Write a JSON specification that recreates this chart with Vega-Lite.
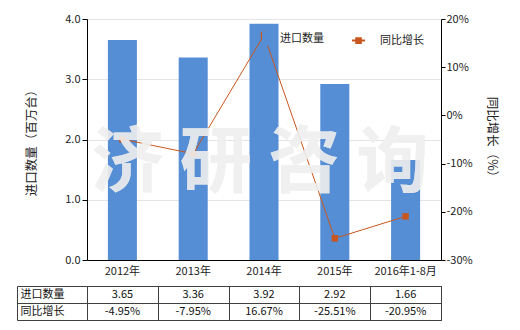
{
  "$schema": "https://vega.github.io/schema/vega-lite/v6.json",
  "padding": {"left": 16, "top": 13, "right": 5, "bottom": 5},
  "background": "white",
  "bounds": "flush",
  "spacing": 26,
  "config": {
    "font": "Noto Sans CJK SC",
    "view": {"stroke": null},
    "axis": {"labelColor": "#222222", "titleColor": "#222222", "titleFontWeight": "normal", "labelFont": "Noto Sans CJK SC", "titleFont": "Noto Sans CJK SC"},
    "legend": {"labelFont": "Noto Sans CJK SC"}
  },
  "resolve": {"scale": {"x": "independent", "y": "independent"}},
  "vconcat": [
    {
      "width": 354,
      "height": 241,
      "data": {"values": [
        {"year": "2012年", "qty": 3.65, "yoy": -4.95},
        {"year": "2013年", "qty": 3.36, "yoy": -7.95},
        {"year": "2014年", "qty": 3.92, "yoy": 16.67},
        {"year": "2015年", "qty": 2.92, "yoy": -25.51},
        {"year": "2016年1-8月", "qty": 1.66, "yoy": -20.95}
      ]},
      "encoding": {
        "x": {"field": "year", "type": "nominal", "sort": null,
          "scale": {"paddingInner": 0.59, "paddingOuter": 0.295},
          "axis": {"title": null, "ticks": false, "labelAngle": 0, "domainColor": "#000000", "labelFontSize": 11, "labelPadding": 5}}
      },
      "layer": [
        {
          "mark": {"type": "bar", "color": "#558ed5"},
          "encoding": {
            "y": {"field": "qty", "type": "quantitative", "scale": {"domain": [0, 4]},
              "axis": {"values": [0, 1, 2, 3, 4], "format": ".1f", "grid": true, "gridColor": "#e4e4e4", "domainColor": "#000000", "tickColor": "#000000", "tickSize": 5, "labelFontSize": 11, "labelPadding": 2, "title": "进口数量（百万台）", "titleFontSize": 12.5, "titlePadding": 26}},
            "color": {"datum": "进口数量", "type": "nominal",
              "scale": {"domain": ["进口数量", "同比增长"], "range": ["#558ed5", "#c9561e"]},
              "legend": {"orient": "none", "legendX": 164, "legendY": 7, "direction": "horizontal", "title": null, "symbolSize": 529, "labelFontSize": 11, "labelOffset": 4, "columnPadding": 24, "padding": 0, "labelColor": "#222222",
                "encode": {"symbols": {"update": {
                  "shape": {"signal": "datum.value === '进口数量' ? 'M-0.04,-0.52H1V0.52H-0.04Z' : 'M-1,0H0.13M-0.63,-0.2H-0.23V0.2H-0.63Z'"},
                  "fill": {"scale": "color", "field": "value"},
                  "stroke": {"scale": "color", "field": "value"},
                  "strokeWidth": {"value": 2},
                  "opacity": {"value": 1}
                }}}}
            }
          }
        },
        {
          "layer": [
            {
              "mark": {"type": "line", "strokeWidth": 1},
              "encoding": {
                "y": {"field": "yoy", "type": "quantitative", "scale": {"domain": [-30, 20]},
                  "axis": {"orient": "right", "values": [-30, -20, -10, 0, 10, 20], "labelExpr": "datum.value + '%'", "grid": false, "domainColor": "#000000", "tickColor": "#000000", "tickSize": 4, "labelFontSize": 11, "labelPadding": 1, "title": "同比增长（%）", "titleFontSize": 12.5, "titleAngle": 90, "titlePadding": 12}},
                "color": {"datum": "同比增长", "type": "nominal"}
              }
            },
            {
              "mark": {"type": "point", "shape": "square", "filled": true, "size": 42, "opacity": 1},
              "encoding": {
                "y": {"field": "yoy", "type": "quantitative"},
                "color": {"datum": "同比增长", "type": "nominal"}
              }
            },
            {
              "mark": {"type": "text", "text": "济 研 咨 询", "fontSize": 72, "fontWeight": "bold", "color": "#f0f0f0", "opacity": 0.37, "dx": -4},
              "encoding": {"x": {"datum": "2014年"}, "y": {"datum": -10.1}}
            }
          ]
        }
      ],
      "resolve": {"scale": {"y": "independent"}}
    },
    {
      "width": 354,
      "height": 34,
      "view": {"stroke": "#404040", "strokeWidth": 1},
      "data": {"values": [
        {"year": "2012年", "row": "进口数量", "val": "3.65"},
        {"year": "2013年", "row": "进口数量", "val": "3.36"},
        {"year": "2014年", "row": "进口数量", "val": "3.92"},
        {"year": "2015年", "row": "进口数量", "val": "2.92"},
        {"year": "2016年1-8月", "row": "进口数量", "val": "1.66"},
        {"year": "2012年", "row": "同比增长", "val": "-4.95%"},
        {"year": "2013年", "row": "同比增长", "val": "-7.95%"},
        {"year": "2014年", "row": "同比增长", "val": "16.67%"},
        {"year": "2015年", "row": "同比增长", "val": "-25.51%"},
        {"year": "2016年1-8月", "row": "同比增长", "val": "-20.95%"}
      ]},
      "mark": {"type": "text", "fontSize": 11, "color": "#111111"},
      "encoding": {
        "x": {"field": "year", "type": "nominal", "sort": null,
          "scale": {"paddingInner": 0, "paddingOuter": 0},
          "axis": {"orient": "top", "labels": false, "ticks": false, "domain": false, "title": null, "grid": true, "tickBand": "extent", "gridColor": "#404040", "gridOpacity": 1}},
        "y": {"field": "row", "type": "nominal", "sort": ["进口数量", "同比增长"],
          "scale": {"paddingInner": 0, "paddingOuter": 0},
          "axis": {"orient": "left", "offset": 70, "title": null, "tickBand": "extent", "tickSize": -70, "tickColor": "#404040", "domainColor": "#404040", "grid": true, "gridColor": "#404040", "gridOpacity": 1, "labelAlign": "left", "labelPadding": 67, "labelFontSize": 11, "labelColor": "#111111"}},
        "text": {"field": "val"}
      }
    }
  ]
}
